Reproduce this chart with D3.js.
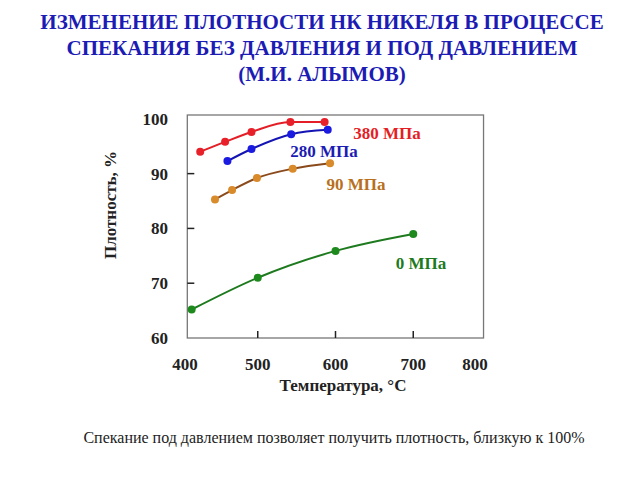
<!DOCTYPE html>
<html><head><meta charset="utf-8">
<script src="https://cdn.jsdelivr.net/npm/d3@7"></script>
<style>body{margin:0;background:#fff}svg{display:block}</style>
</head><body>
<script>
const titleLines = ["ИЗМЕНЕНИЕ ПЛОТНОСТИ НК НИКЕЛЯ В ПРОЦЕССЕ","СПЕКАНИЯ БЕЗ ДАВЛЕНИЯ И ПОД ДАВЛЕНИЕМ","(М.И. АЛЫМОВ)"];
const footnote = "Спекание под давлением позволяет получить плотность, близкую к 100%";
const xTickLabels = [400,500,600,700,800];
const yTickLabels = [60,70,80,90,100];
const seriesNames = ["380 МПа","280 МПа","90 МПа","0 МПа"];
const t380 = [426,458,492,542,586];
const v380 = [94.0,95.8,97.6,99.4,99.4];
const t280 = [461,492,543,590];
const v280 = [92.3,94.5,97.2,98.0];
const t90 = [445,467,499,545,593];
const v90 = [85.3,87.0,89.2,90.9,91.9];
const t0 = [415,500,600,700];
const v0 = [65.2,71.0,75.9,79.0];

const W=640,H=480;
const svg=d3.select("body").append("svg").attr("width",W).attr("height",H);
const serif="Liberation Serif, Times New Roman, serif";

const x=d3.scaleLinear().domain([400,800]).range([180,491]);
const y=d3.scaleLinear().domain([60,100.7]).range([338,115]);
const xMin=409.4,xMax=790.4;

// title
svg.append("g").selectAll("text").data(titleLines).join("text")
  .attr("x",322).attr("y",(d,i)=>29+i*26).attr("text-anchor","middle")
  .style("font-family",serif).attr("font-weight","bold").attr("font-size",21)
  .attr("fill","#1c1cb4").text(d=>d);

// frame
const fx0=x(xMin),fx1=x(xMax);
svg.append("rect").attr("x",fx0).attr("y",y(100.7)).attr("width",fx1-fx0).attr("height",y(60)-y(100.7))
  .attr("fill","none").attr("stroke","#777").attr("stroke-width",1.3);

// ticks
svg.append("g").selectAll("line").data(xTickLabels.filter(v=>v>xMin&&v<xMax)).join("line")
  .attr("x1",d=>x(d)).attr("x2",d=>x(d)).attr("y1",y(60)).attr("y2",y(60)-7)
  .attr("stroke","#222").attr("stroke-width",1.5);
svg.append("g").selectAll("line").data(yTickLabels.filter(v=>v>60&&v<100)).join("line")
  .attr("x1",fx0).attr("x2",fx0+7).attr("y1",d=>y(d)).attr("y2",d=>y(d))
  .attr("stroke","#222").attr("stroke-width",1.5);

// tick labels
svg.append("g").selectAll("text").data(xTickLabels).join("text")
  .attr("x",d=>Math.min(Math.max(x(d),185),475)).attr("y",370).attr("text-anchor","middle")
  .style("font-family",serif).attr("font-weight","bold").attr("font-size",17).attr("fill","#222").text(d=>d);
svg.append("g").selectAll("text").data(yTickLabels).join("text")
  .attr("x",168).attr("y",d=>y(d)+6).attr("text-anchor","end")
  .style("font-family",serif).attr("font-weight","bold").attr("font-size",17).attr("fill","#222").text(d=>d);

// axis titles
svg.append("text").attr("x",343).attr("y",391).attr("text-anchor","middle")
  .style("font-family",serif).attr("font-weight","bold").attr("font-size",17).attr("fill","#222").text("Температура, °C");
svg.append("text").attr("transform","translate(116,205) rotate(-90)").attr("text-anchor","middle")
  .style("font-family",serif).attr("font-weight","bold").attr("font-size",17).attr("fill","#222").text("Плотность, %");

// series
const series=[
  {name:seriesNames[0],t:t380,v:v380,line:"#e41e26",dot:"#e8202a",lx:387,ly:139},
  {name:seriesNames[1],t:t280,v:v280,line:"#1414b4",dot:"#1a1ae0",lx:324,ly:157},
  {name:seriesNames[2],t:t90,v:v90,line:"#8b4a1c",dot:"#d98a2a",lx:356,ly:190},
  {name:seriesNames[3],t:t0,v:v0,line:"#1e7a1e",dot:"#1e8a1e",lx:421,ly:269}
];
const labelColors=["#e41e26","#1c1cb4","#b8701e","#1e7a1e"];
const line=d3.line().x(d=>x(d[0])).y(d=>y(d[1])).curve(d3.curveMonotoneX);
series.forEach((s,i)=>{
  const pts=s.t.map((t,j)=>[t,s.v[j]]);
  svg.append("path").datum(pts).attr("d",line).attr("fill","none").attr("stroke",s.line).attr("stroke-width",2);
  svg.append("g").selectAll("circle").data(pts).join("circle")
    .attr("cx",d=>x(d[0])).attr("cy",d=>y(d[1])).attr("r",4).attr("fill",s.dot);
  svg.append("text").attr("x",s.lx).attr("y",s.ly).attr("text-anchor","middle")
    .style("font-family",serif).attr("font-weight","bold").attr("font-size",17).attr("fill",labelColors[i]).text(s.name);
});

// footnote
svg.append("text").attr("x",334).attr("y",443).attr("text-anchor","middle")
  .style("font-family",serif).attr("font-size",16).attr("fill","#222").text(footnote);
</script>
</body></html>
